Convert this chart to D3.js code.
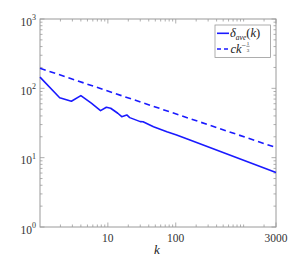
<!DOCTYPE html>
<html><head><meta charset="utf-8">
<script src="https://cdn.jsdelivr.net/npm/d3@7"></script>
<style>html,body{margin:0;padding:0;background:#fff;}svg{display:block;}
.sf{font-family:"Liberation Serif","Times New Roman",Times,serif;}</style>
</head><body>
<script>
// Data
const kAve = [1, 1.95, 2.9, 4, 5.7, 7.8, 9.5, 11, 14, 16, 19, 21, 30, 33, 47, 74, 103, 162, 3000];
const deltaAve = [145, 73, 65, 78.5, 61, 47.7, 53.4, 51.6, 43.7, 39, 41.3, 37.8, 33.1, 33, 28, 23.7, 21.3, 18, 6.1];
const kFit = [1, 3000];
const fitVals = [195, 14];
const xTickLabels = [10, 100, 3000];
const yTickExps = [0, 1, 2, 3];

const W = 305, H = 263;
const svg = d3.select("body").append("svg").attr("width", W).attr("height", H);
const x = d3.scaleLog().domain([1, 3000]).range([40, 276]);
const y = d3.scaleLog().domain([1, 1000]).range([227, 19]);
const axisCol = "#9a9a9a";
const blue = "#1a1aff";

svg.append("rect").attr("x", 40).attr("y", 19).attr("width", 236).attr("height", 208)
  .attr("fill", "none").attr("stroke", axisCol).attr("stroke-width", 1);

const xMinor = [];
for (let d = 1; d <= 1000; d *= 10) for (let m = 2; m <= 9; m++) { const v = m * d; if (v <= 3000) xMinor.push(v); }
const yMinor = [];
for (let d = 1; d < 1000; d *= 10) for (let m = 2; m <= 9; m++) yMinor.push(m * d);
const tg = svg.append("g").attr("stroke", axisCol).attr("stroke-width", 0.8);
xMinor.concat([10, 100, 1000]).forEach(v => {
  const major = xTickLabels.includes(v);
  const L = major ? 4.5 : 2.5;
  tg.append("line").attr("x1", x(v)).attr("x2", x(v)).attr("y1", 227).attr("y2", 227 - L);
  tg.append("line").attr("x1", x(v)).attr("x2", x(v)).attr("y1", 19).attr("y2", 19 + L);
});
yMinor.forEach(v => {
  tg.append("line").attr("x1", 40).attr("x2", 42.5).attr("y1", y(v)).attr("y2", y(v));
  tg.append("line").attr("x1", 276).attr("x2", 273.5).attr("y1", y(v)).attr("y2", y(v));
});
yTickExps.forEach(e => {
  const v = Math.pow(10, e);
  tg.append("line").attr("x1", 40).attr("x2", 44.5).attr("y1", y(v)).attr("y2", y(v));
  tg.append("line").attr("x1", 276).attr("x2", 271.5).attr("y1", y(v)).attr("y2", y(v));
});

yTickExps.forEach(e => {
  const yy = y(Math.pow(10, e));
  const t = svg.append("text").attr("class", "sf").attr("x", 36).attr("y", yy + 6.5).attr("text-anchor", "end")
    .attr("font-size", 11.5).attr("fill", "#333");
  t.append("tspan").text("10");
  t.append("tspan").attr("dy", -5.5).attr("font-size", 8).text(String(e));
});
xTickLabels.forEach(v => {
  svg.append("text").attr("class", "sf").attr("x", x(v)).attr("y", 242).attr("text-anchor", "middle")
    .attr("font-size", 11.5).attr("fill", "#333").text(String(v));
});
svg.append("text").attr("class", "sf").attr("x", 157).attr("y", 254).attr("text-anchor", "middle")
  .attr("font-style", "italic").attr("font-size", 13).attr("fill", "#222").text("k");

const line = d3.line().x(d => x(d[0])).y(d => y(d[1]));
svg.append("path").datum(kFit.map((k, i) => [k, fitVals[i]])).attr("d", line)
  .attr("fill", "none").attr("stroke", blue).attr("stroke-width", 1.6).attr("stroke-dasharray", "6,4");
svg.append("path").datum(kAve.map((k, i) => [k, deltaAve[i]])).attr("d", line)
  .attr("fill", "none").attr("stroke", blue).attr("stroke-width", 1.6).attr("stroke-linejoin", "round");

const lg = svg.append("g");
lg.append("rect").attr("x", 215).attr("y", 25).attr("width", 55.5).attr("height", 32.5)
  .attr("fill", "#fff").attr("stroke", axisCol).attr("stroke-width", 0.8);
lg.append("line").attr("x1", 217).attr("x2", 229).attr("y1", 33.3).attr("y2", 33.3)
  .attr("stroke", blue).attr("stroke-width", 1.6);
lg.append("line").attr("x1", 217).attr("x2", 229).attr("y1", 49).attr("y2", 49)
  .attr("stroke", blue).attr("stroke-width", 1.6).attr("stroke-dasharray", "4,3");
const t1 = lg.append("text").attr("class", "sf").attr("x", 230).attr("y", 37)
  .attr("font-style", "italic").attr("font-size", 12.5).attr("fill", "#222");
t1.append("tspan").text("δ");
t1.append("tspan").attr("dy", 2.5).attr("font-size", 7.5).text("ave");
t1.append("tspan").attr("dy", -2.5).attr("font-style", "normal").text("(");
t1.append("tspan").text("k");
t1.append("tspan").attr("font-style", "normal").text(")");
const t2 = lg.append("text").attr("class", "sf").attr("x", 230.5).attr("y", 52.5)
  .attr("font-style", "italic").attr("font-size", 12.5).attr("fill", "#222");
t2.append("tspan").text("ck");
t2.append("tspan").attr("dy", -5).attr("font-style", "normal").attr("font-size", 8).text("−");
lg.append("text").attr("class", "sf").attr("x", 248).attr("y", 44.5).attr("text-anchor", "middle")
  .attr("font-size", 5).attr("fill", "#222").text("1");
lg.append("line").attr("x1", 246.4).attr("x2", 249.6).attr("y1", 46.3).attr("y2", 46.3)
  .attr("stroke", "#222").attr("stroke-width", 0.5);
lg.append("text").attr("class", "sf").attr("x", 248).attr("y", 51.5).attr("text-anchor", "middle")
  .attr("font-size", 5).attr("fill", "#222").text("3");
</script>
</body></html>
